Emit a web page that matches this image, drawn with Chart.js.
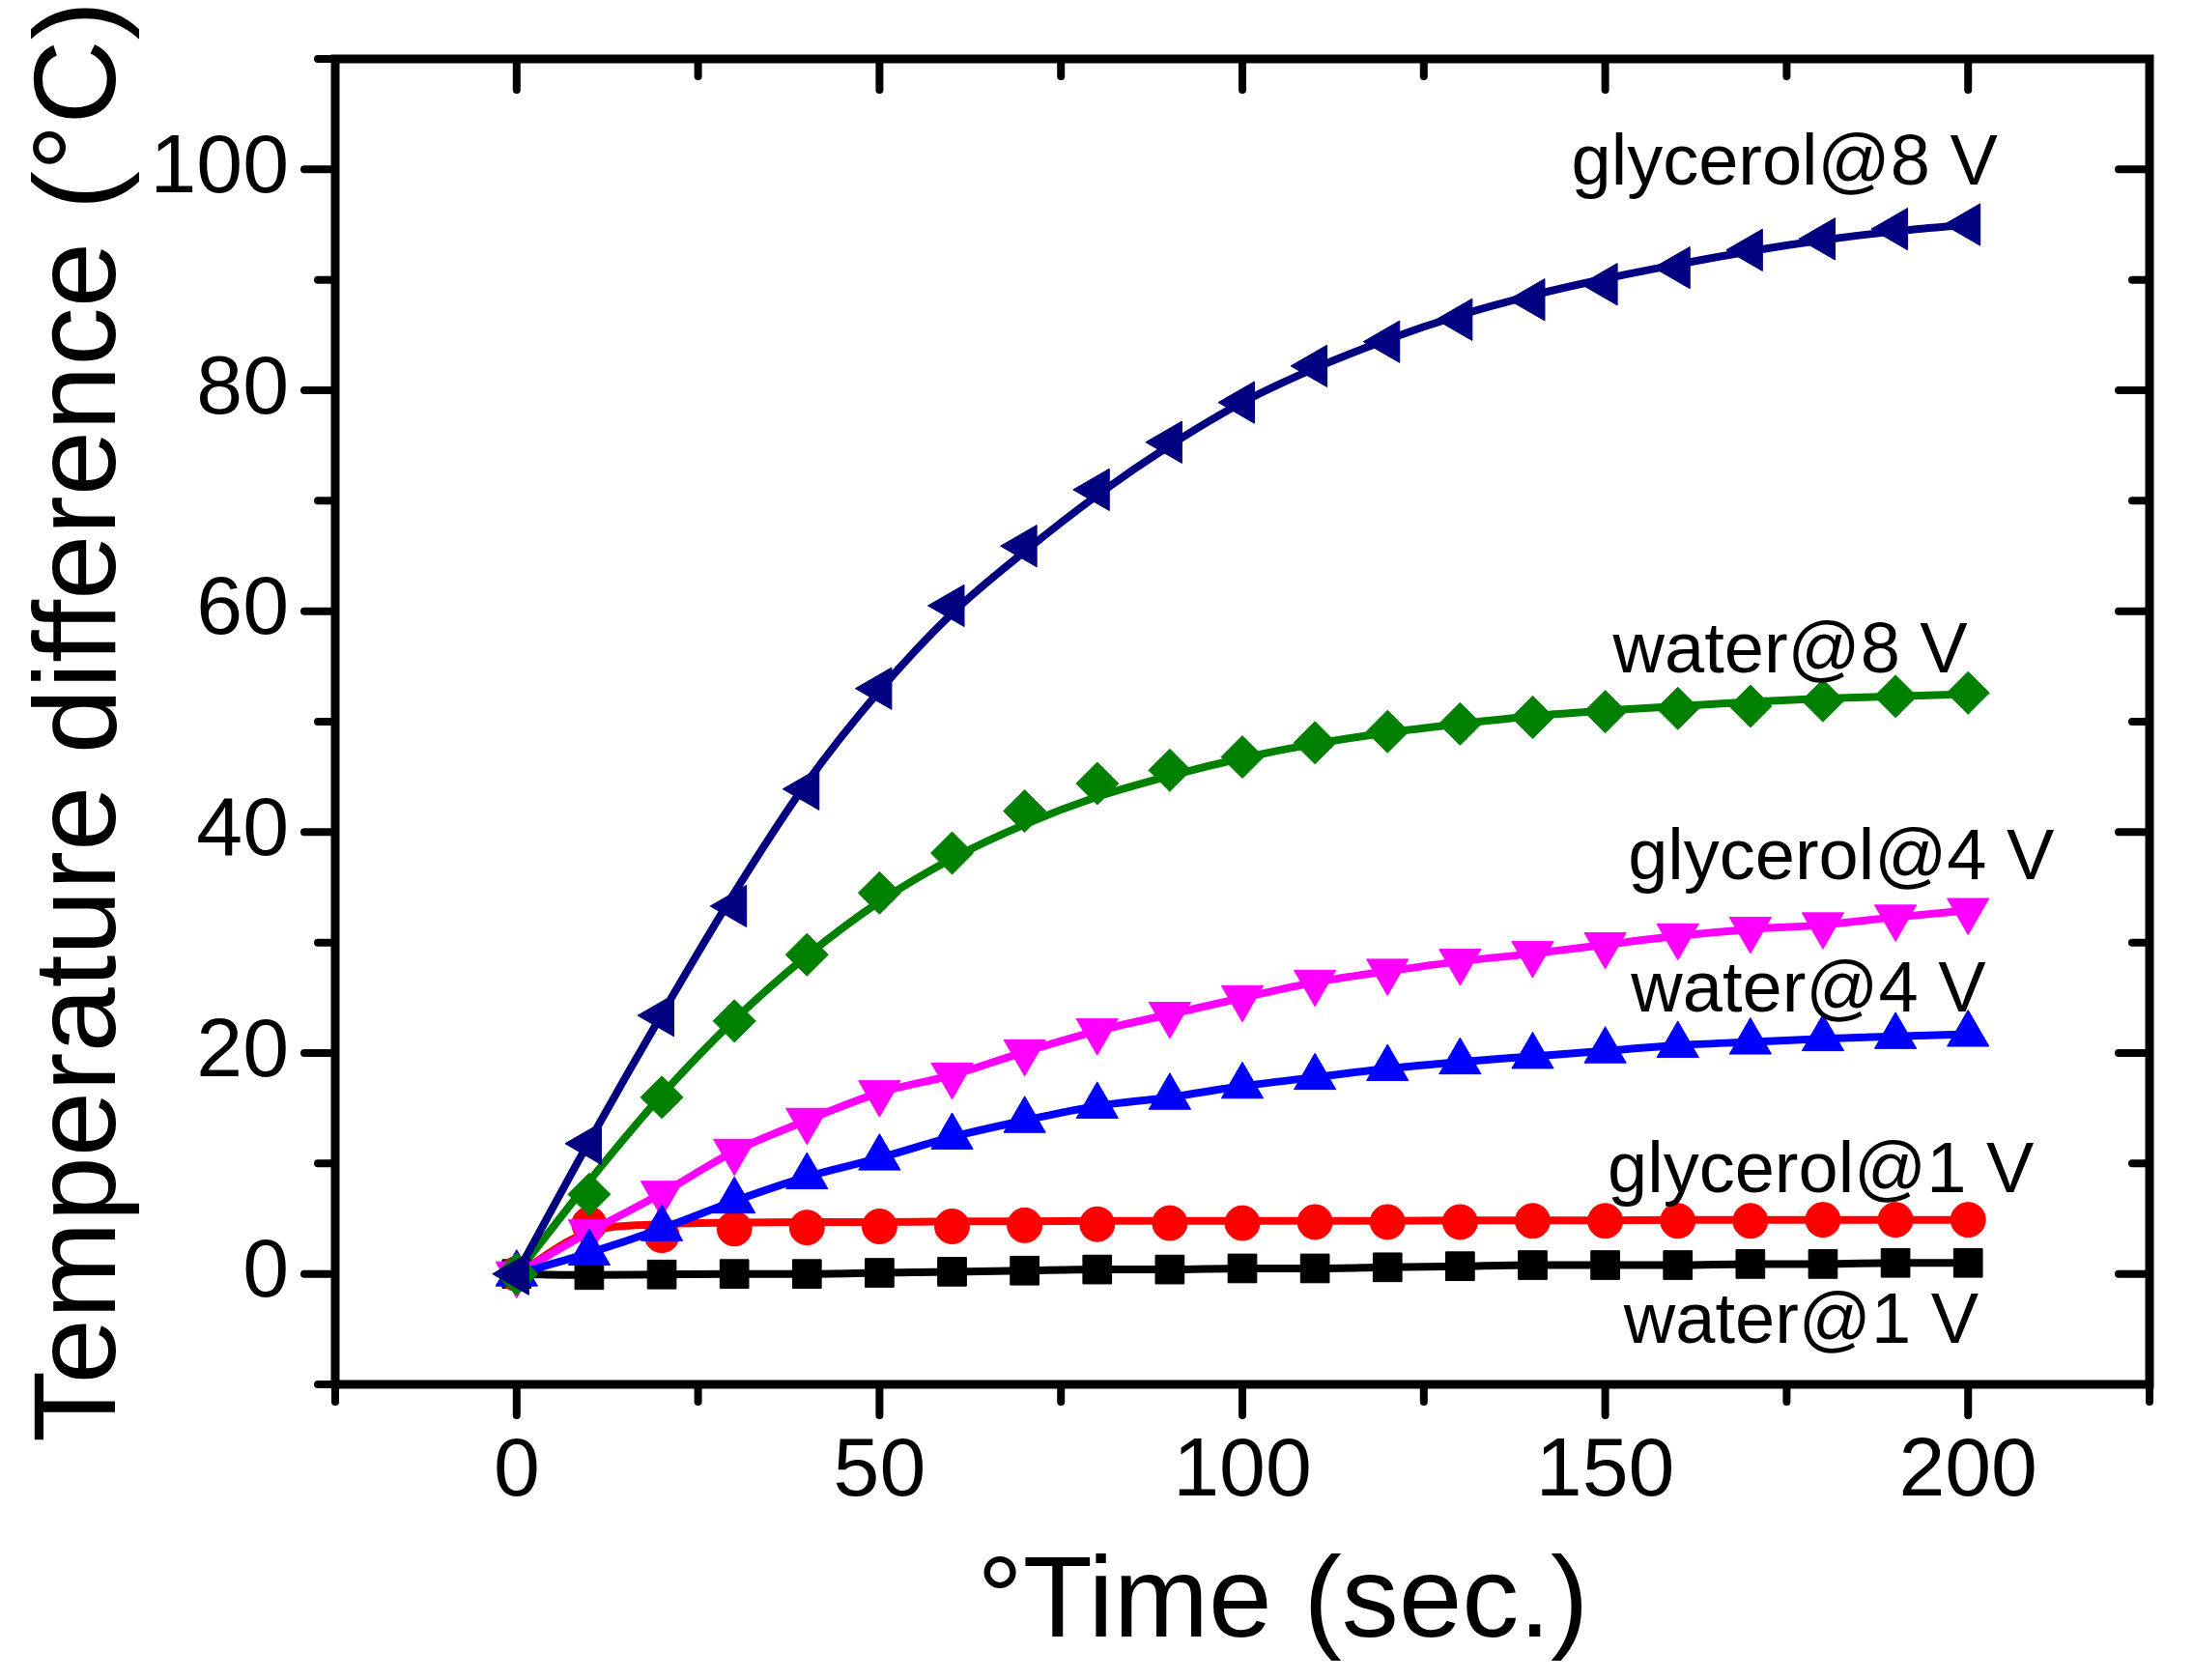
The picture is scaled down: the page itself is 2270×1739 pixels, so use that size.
<!DOCTYPE html>
<html>
<head>
<meta charset="utf-8">
<title>Temperature difference</title>
<script src="https://cdn.jsdelivr.net/npm/chart.js@4/dist/chart.umd.min.js"></script>
<style>
	html, body { margin: 0; padding: 0; background: #fff; }
	#wrap { width: 2270px; height: 1739px; }
</style>
</head>
<body>
<div id="wrap"><canvas id="tempChart" width="2270" height="1739"></canvas></div>
<script>
// time in seconds
const times = [0, 10, 20, 30, 40, 50, 60, 70, 80, 90, 100, 110, 120, 130, 140, 150, 160, 170, 180, 190, 200]

const glycerol8 = [0, 11.8, 23.4, 33.3, 43.9, 53.0, 60.5, 65.9, 71.0, 75.3, 78.9, 82.2, 84.4, 86.4, 88.2, 89.6, 91.1, 92.7, 93.7, 94.6, 95.0]
const water8 = [0, 7.2, 16.0, 22.9, 28.9, 34.5, 38.1, 41.9, 44.4, 45.6, 46.8, 48.1, 49.1, 49.8, 50.4, 50.9, 51.2, 51.4, 51.9, 52.3, 52.6]
const glycerol4 = [0, 3.8, 7.3, 11.1, 13.9, 16.4, 18.0, 20.1, 22.0, 23.5, 25.0, 26.4, 27.4, 28.3, 29.0, 29.8, 30.6, 31.2, 31.6, 32.3, 32.9]
const water4 = [0, 1.9, 4.1, 6.6, 8.8, 10.5, 12.4, 13.9, 15.2, 16.0, 17.0, 17.8, 18.6, 19.2, 19.7, 20.2, 20.7, 21.0, 21.3, 21.5, 21.7]
const glycerol1 = [0, 4.5, 3.5, 4.1, 4.2, 4.3, 4.3, 4.4, 4.5, 4.6, 4.6, 4.7, 4.7, 4.7, 4.8, 4.8, 4.8, 4.8, 4.9, 4.9, 4.9]
const water1 = [0, -0.1, -0.05, 0, 0, 0.1, 0.2, 0.3, 0.4, 0.4, 0.5, 0.5, 0.6, 0.7, 0.8, 0.8, 0.8, 0.9, 0.9, 1.0, 1.0]

// fitted curves where they leave the markers
const glycerol8Fit = [0, 12.0, 23.5, 34.5, 44.5, 52.8, 59.8, 65.4, 70.5, 75.0, 78.9, 82.0, 84.6, 86.8, 88.6, 90.1, 91.4, 92.6, 93.6, 94.4, 95.0]
const water8Fit = [0, 8.4, 16.2, 23.0, 28.8, 33.7, 37.6, 40.7, 43.2, 45.1, 46.7, 48.0, 49.0, 49.8, 50.5, 51.0, 51.4, 51.8, 52.1, 52.3, 52.5]
const glycerol1Fit = [0, 3.8, 4.5, 4.65, 4.7, 4.7, 4.75, 4.75, 4.8, 4.8, 4.8, 4.8, 4.8, 4.85, 4.85, 4.85, 4.9, 4.9, 4.9, 4.9, 4.9]

// curve labels and where they sit (data units)
const labelTexts = ["glycerol@8 V", "water@8 V", "glycerol@4 V", "water@4 V", "glycerol@1 V", "water@1 V"]
const labelX = [174.7, 175.5, 182.5, 178, 179.7, 177]
const labelY = [98.6, 54.5, 35.7, 23.8, 7.4, -6.2]

const xTitle = "°Time (sec.)"
const yTitle = "Temperature difference (°C)"

const FONT = "'Liberation Sans', Arial, Helvetica, sans-serif"

function pairs(ys) {
	return times.map((t, i) => ({ x: t, y: ys[i] }))
}

// markers (optionally joined by a line)
function Markers(data, color, style, rotation, radius, joined) {
	this.data = pairs(data)
	this.borderColor = color
	this.backgroundColor = color
	this.pointBackgroundColor = color
	this.pointBorderColor = color
	this.pointBorderWidth = 1
	this.pointStyle = style
	this.pointRotation = rotation
	this.pointRadius = radius
	this.pointHoverRadius = radius
	this.showLine = joined
	this.borderWidth = 8
	this.cubicInterpolationMode = "monotone"
	this.fill = false
	this.order = 1
}

// plain fitted line
function Fit(data, color) {
	this.data = pairs(data)
	this.borderColor = color
	this.backgroundColor = color
	this.pointRadius = 0
	this.pointHoverRadius = 0
	this.borderWidth = 8
	this.cubicInterpolationMode = "monotone"
	this.fill = false
	this.order = 2
}

// frame, ticks, titles and curve labels
const decorations = {
	id: "decorations",
	afterDraw(chart) {
		const ctx = chart.ctx
		const a = chart.chartArea
		const xs = chart.scales.x
		const ys = chart.scales.y
		ctx.save()
		ctx.strokeStyle = "#000"
		ctx.lineCap = "round"

		// ticks
		ctx.lineWidth = 8
		xs.ticks.forEach(t => {
			const px = xs.getPixelForValue(t.value)
			const len = t.value % 50 === 0 ? 32 : 18
			ctx.beginPath()
			ctx.moveTo(px, a.bottom)
			ctx.lineTo(px, a.bottom + len)
			ctx.moveTo(px, a.top)
			ctx.lineTo(px, a.top + len)
			ctx.stroke()
		})
		ys.ticks.forEach(t => {
			const py = ys.getPixelForValue(t.value)
			const len = t.value % 20 === 0 ? 32 : 18
			ctx.beginPath()
			ctx.moveTo(a.left, py)
			ctx.lineTo(a.left - len, py)
			ctx.moveTo(a.right, py)
			ctx.lineTo(a.right - len, py)
			ctx.stroke()
		})

		// frame
		ctx.lineWidth = 9
		ctx.lineCap = "square"
		ctx.strokeRect(a.left, a.top, a.right - a.left, a.bottom - a.top)

		// curve labels
		ctx.fillStyle = "#000"
		ctx.font = "74px " + FONT
		ctx.textAlign = "center"
		ctx.textBaseline = "alphabetic"
		labelTexts.forEach((txt, i) => {
			ctx.fillText(txt, xs.getPixelForValue(labelX[i]), ys.getPixelForValue(labelY[i]))
		})

		// axis titles
		ctx.font = "118px " + FONT
		ctx.fillText(xTitle, (a.left + a.right) / 2 + 42, a.bottom + 261)

		ctx.translate(a.left - 228, (a.top + a.bottom) / 2)
		ctx.rotate(-Math.PI / 2)
		ctx.font = "121px " + FONT
		ctx.fillText(yTitle, 0, 0)
		ctx.restore()
	}
}

const tempChart = new Chart(
	document.getElementById("tempChart"),
	{
		type: "line",
		data: {
			datasets: [
				new Markers(glycerol8, "#000080", "triangle", -90, 25, false),
				new Markers(water8, "#008000", "rectRot", 0, 22, false),
				new Markers(water4, "#0000FF", "triangle", 0, 25, true),
				new Markers(glycerol4, "#FF00FF", "triangle", 180, 25, true),
				new Markers(glycerol1, "#FF0000", "circle", 0, 18, false),
				new Markers(water1, "#000000", "rect", 0, 21, true),
				new Fit(glycerol8Fit, "#000080"),
				new Fit(water8Fit, "#008000"),
				new Fit(glycerol1Fit, "#FF0000")
			]
		},
		options: {
			responsive: false,
			devicePixelRatio: 1,
			animation: false,
			layout: {
				padding: { top: 61, right: 45, left: 0, bottom: 0 }
			},
			plugins: {
				legend: { display: false },
				tooltip: { enabled: false }
			},
			scales: {
				x: {
					type: "linear",
					min: -25,
					max: 225,
					grid: { display: false, drawTicks: false },
					border: { display: false },
					ticks: {
						stepSize: 25,
						padding: 40,
						color: "#000",
						font: { family: FONT, size: 86 },
						maxRotation: 0,
						autoSkip: false,
						callback: v => (v % 50 === 0 ? v : "")
					},
					afterFit: scale => {
						scale.height = 306
						scale.paddingLeft = 0
						scale.paddingRight = 0
					}
				},
				y: {
					min: -10,
					max: 110,
					grid: { display: false, drawTicks: false },
					border: { display: false },
					ticks: {
						stepSize: 10,
						padding: 48,
						color: "#000",
						font: { family: FONT, size: 86 },
						autoSkip: false,
						callback: v => (v % 20 === 0 ? v : "")
					},
					afterFit: scale => {
						scale.width = 347
						scale.paddingTop = 0
						scale.paddingBottom = 0
					}
				}
			}
		},
		plugins: [decorations]
	}
)
</script>
</body>
</html>
